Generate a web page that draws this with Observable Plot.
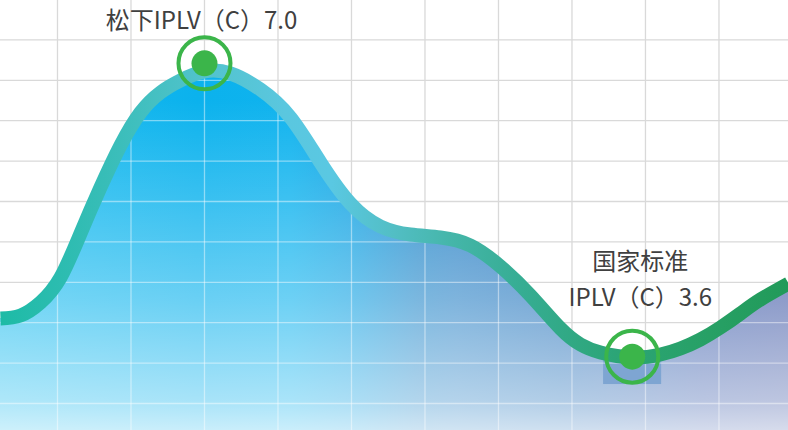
<!DOCTYPE html>
<html><head><meta charset="utf-8">
<script src="https://cdn.jsdelivr.net/npm/d3@7"></script>
<script src="https://cdn.jsdelivr.net/npm/@observablehq/plot@0.6"></script>
<style>html,body{margin:0;padding:0;background:#fff;overflow:hidden}#chart svg{display:block}</style>
</head><body><div id="chart"></div>
<script>
// Curve (grid units)
const curveX = [0.224, 0.497, 0.769, 1.041, 1.313, 1.585, 1.857, 2.129, 2.401, 2.673, 3.000, 3.354, 3.762, 4.170, 4.578, 4.986, 5.395, 5.803, 6.211, 6.619, 7.027, 7.435, 7.844, 8.116, 8.388, 8.823, 9.204, 9.476, 9.748, 10.020, 10.293, 10.565, 10.946];
const curveY = [2.104, 2.178, 2.500, 3.119, 4.208, 5.347, 6.386, 7.203, 7.698, 7.995, 8.218, 8.168, 7.772, 7.079, 5.965, 4.950, 4.381, 4.183, 4.109, 3.911, 3.391, 2.673, 1.856, 1.460, 1.262, 1.139, 1.213, 1.361, 1.584, 1.881, 2.228, 2.574, 2.970];
// Grid lines
const gridX = [1, 2, 3, 4, 5, 6, 7, 8, 9, 10];
const gridY = [0, 1, 2, 3, 4, 5, 6, 7, 8, 9];
// Markers and labels
const markerX = [3.0, 8.82];
const markerY = [8.42, 1.16];
const labels = ["松下IPLV（C）7.0", "国家标准\nIPLV（C）3.6"];
// Highlight box under the lower marker
const highlightX = [8.43, 9.22];
const highlightY = [0.47, 1.31];

const curve = curveX.map((x, i) => ({x, y: curveY[i]}));
const markers = markerX.map((x, i) => ({x, y: markerY[i], label: labels[i]}));
const highlight = [{x1: highlightX[0], x2: highlightX[1], y1: highlightY[0], y2: highlightY[1]}];
const xDomain = [0.2245, 10.946];
const yDomain = [-0.668, 9.975];
const yBottom = yDomain[0];

function gradient(defs, id, attrs, stops) {
  const g = defs.append("linearGradient").attr("id", id).attr("gradientUnits", "userSpaceOnUse");
  for (const [k, v] of Object.entries(attrs)) g.attr(k, v);
  for (const [o, c, a] of stops) g.append("stop").attr("offset", o).attr("stop-color", c).attr("stop-opacity", a ?? 1);
}
const defsMark = () => {
  const svg = d3.create("svg:g");
  const defs = svg.append("defs");
  gradient(defs, "lineGrad", {x1: 0, x2: 788, y1: 0, y2: 0}, [
    [0, "#1dbba6"], [0.13, "#37bdb7"], [0.26, "#52c3cd"], [0.36, "#5ac7df"], [0.42, "#5ac8e2"],
    [0.5, "#52bec4"], [0.57, "#45b6aa"], [0.66, "#36ad93"], [0.78, "#2ca577"], [0.9, "#27a065"], [1, "#219a59"]
  ]);
  gradient(defs, "fillGrad", {x1: 0, x2: 788, y1: 0, y2: 0}, [
    [0, "#1cbcef"], [0.25, "#0bb2ed"], [0.37, "#10b3ee"], [0.45, "#15a2e2"], [0.53, "#278acb"],
    [0.58, "#2d84c7"], [0.71, "#2773bb"], [0.89, "#3e5fad"], [1, "#475ea8"]
  ]);
  gradient(defs, "fadeGrad", {x1: 0, x2: 0, y1: 0, y2: 430}, [
    [0, "#ffffff", 0], [0.233, "#ffffff", 0], [0.465, "#ffffff", 0.19], [0.698, "#ffffff", 0.39],
    [0.93, "#ffffff", 0.64], [1, "#ffffff", 0.78]
  ]);
  defs.append("clipPath").attr("id", "areaClip").append("path").attr("id", "areaClipPath");
  return svg.node();
};

const font = "'Noto Sans CJK SC', 'Noto Sans', sans-serif";
const green = "#3bb54a";
const curveType = "natural";

const plot = Plot.plot({
  width: 788, height: 430,
  margin: 0,
  x: {domain: xDomain, axis: null},
  y: {domain: yDomain, axis: null},
  style: {background: "#fff", fontFamily: font},
  marks: [
    defsMark,
    Plot.ruleX(gridX, {x: d => d, stroke: "#d9d9d9", strokeWidth: 1.3}),
    Plot.ruleY(gridY, {y: d => d, stroke: "#d9d9d9", strokeWidth: 1.3}),
    Plot.areaY(curve, {x: "x", y1: yBottom, y2: "y", curve: curveType, fill: "url(#fillGrad)"}),
    Plot.areaY(curve, {x: "x", y1: yBottom, y2: "y", curve: curveType, fill: "url(#fadeGrad)"}),
    Plot.rect(highlight, {x1: "x1", x2: "x2", y1: "y1", y2: "y2", fill: "#7ea5d2"}),
    Plot.ruleX(gridX, {x: d => d, stroke: "#ffffff", strokeOpacity: 0.45, strokeWidth: 1.3}),
    Plot.ruleY(gridY, {y: d => d, stroke: "#ffffff", strokeOpacity: 0.45, strokeWidth: 1.3}),
    Plot.line(curve, {x: "x", y: "y", curve: curveType, stroke: "url(#lineGrad)", strokeWidth: 14, strokeLinecap: "butt"}),
    Plot.dot(markers, {x: "x", y: "y", r: 26, stroke: green, strokeWidth: 4, fill: "none"}),
    Plot.dot(markers, {x: "x", y: "y", r: 13, fill: green, stroke: "none"}),
    Plot.text([markers[0]], {x: "x", y: "y", text: "label", dy: -42, dx: -3, fontSize: 24, fill: "#404040", fontFamily: font}),
    Plot.text([markers[1]], {x: "x", y: "y", text: "label", dy: -80, dx: 8, fontSize: 24, lineHeight: 1.5, fill: "#404040", fontFamily: font})
  ]
});

// clip the light grid overlay to the filled area
try {
  const sel = d3.select(plot);
  const areas = sel.selectAll('g[aria-label="area"]').nodes();
  const rules = sel.selectAll('g[aria-label^="rule"]').nodes();
  const p = areas.length ? d3.select(areas[0]).select("path") : null;
  if (p && !p.empty()) {
    sel.select("#areaClipPath").attr("d", p.attr("d"));
    rules.slice(2, 4).forEach(r => r.setAttribute("clip-path", "url(#areaClip)"));
  }
} catch (e) { console.error(e); }

document.getElementById("chart").append(plot);
</script>
</body></html>
